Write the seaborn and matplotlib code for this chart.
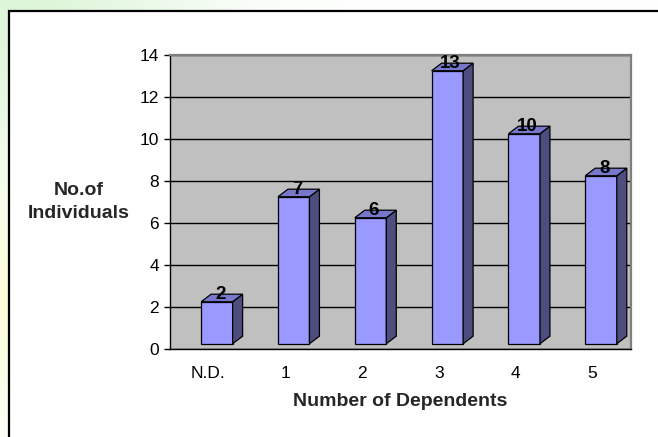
import numpy as np
import pandas as pd
import matplotlib
matplotlib.use("Agg")
import matplotlib.pyplot as plt
from matplotlib.patches import Polygon, Rectangle
import seaborn as sns

# Data
categories = ["N.D.", "1", "2", "3", "4", "5"]
individuals = [2, 7, 6, 13, 10, 8]
y_ticks = [0, 2, 4, 6, 8, 10, 12, 14]

df = pd.DataFrame({"dependents": categories, "count": individuals})

sns.set_style("white")
plt.rcParams["font.family"] = ["Liberation Sans", "DejaVu Sans"]

W, H = 658, 437
fig = plt.figure(figsize=(W / 100, H / 100), dpi=100)

# soft tinted backdrop around the chart frame
bg = fig.add_axes([0, 0, 1, 1], zorder=-10)
yy, xx = np.mgrid[0:H, 0:W]
img = np.ones((H, W, 3))
green = np.array([0.86, 0.96, 0.84])
yellow = np.array([0.98, 0.99, 0.84])
wg = np.exp(-(xx / 200.0) ** 2 - (yy / 170.0) ** 2)[..., None] * 0.95
wy = (np.exp(-((yy - 300) / 110.0) ** 2) * np.exp(-(xx / 60.0) ** 2))[..., None] * 0.9
img = img * (1 - wg) + green * wg
img = img * (1 - wy) + yellow * wy
bg.imshow(img, aspect="auto", extent=[0, 1, 0, 1])
bg.set_axis_off()

# white chart area with black frame
frame = Rectangle((9 / W, -0.1), 1.2, (H - 11) / H + 0.1, transform=fig.transFigure,
                  facecolor="white", edgecolor="black", linewidth=1.6, zorder=-5)
fig.patches.append(frame)

ax = fig.add_axes([170 / W, (H - 349) / H, 461 / W, 294 / H])
ax.set_facecolor("#C0C0C0")

sns.barplot(data=df, x="dependents", y="count", ax=ax, color="#9999FF",
            saturation=1, width=0.41, edgecolor="black", linewidth=0.9, zorder=3)

base = 0.25     # bars stand slightly above the floor line
shift = 0.11    # front faces sit a little right of the category centre
dx, dy = 0.13, 0.36   # depth of the 3-D extrusion in data units

for patch, val in zip(ax.patches, individuals):
    patch.set_y(base)
    patch.set_height(val)
    patch.set_x(patch.get_x() + shift)
    x0 = patch.get_x()
    x1 = x0 + patch.get_width()
    y0 = base
    y1 = base + val
    side = Polygon([(x1, y0), (x1 + dx, y0 + dy), (x1 + dx, y1 + dy), (x1, y1)],
                   closed=True, facecolor="#4D4D80", edgecolor="black", linewidth=0.9, zorder=3)
    top = Polygon([(x0, y1), (x0 + dx, y1 + dy), (x1 + dx, y1 + dy), (x1, y1)],
                  closed=True, facecolor="#7777CC", edgecolor="black", linewidth=0.9, zorder=3)
    ax.add_patch(side)
    ax.add_patch(top)
    ax.text((x0 + x1) / 2 + dx / 3, y1 + 0.14, str(val), ha="center", va="baseline",
            fontsize=13.5, fontweight="bold", color="black", zorder=5)

ax.set_xlim(-0.5, len(categories) - 0.5)
ax.set_ylim(0, 14)
ax.set_yticks(y_ticks)
ax.set_yticklabels([str(t) for t in y_ticks])

ax.set_axisbelow(True)
ax.yaxis.grid(True, color="black", linewidth=1.0)
ax.xaxis.grid(False)

for s in ["left", "bottom"]:
    ax.spines[s].set_color("black")
    ax.spines[s].set_linewidth(1.0)
for s in ["top", "right"]:
    ax.spines[s].set_color("#7F7F7F")
    ax.spines[s].set_linewidth(1.6)

# category labels without marks; marks at category boundaries
ax.tick_params(axis="x", which="major", length=0, pad=12, labelsize=12.5, colors="black")
ax.set_xticks(np.arange(-0.5, len(categories), 1.0), minor=True)
ax.tick_params(axis="x", which="minor", length=4, width=1, color="black", direction="out")
ax.tick_params(axis="y", length=4, width=1, color="black", direction="out", pad=4,
               labelsize=12.5, labelcolor="black", left=True)

ax.set_xlabel("Number of Dependents", fontsize=14, fontweight="bold", va="center")
ax.xaxis.set_label_coords(0.5, (349 - 402) / 294)
ax.set_ylabel("No.of\nIndividuals", fontsize=14, fontweight="bold", rotation=0,
              ha="center", va="center", linespacing=1.4)
ax.yaxis.set_label_coords((79 - 170) / 461, (349 - 202) / 294)

fig.savefig("out.png", dpi=100)
